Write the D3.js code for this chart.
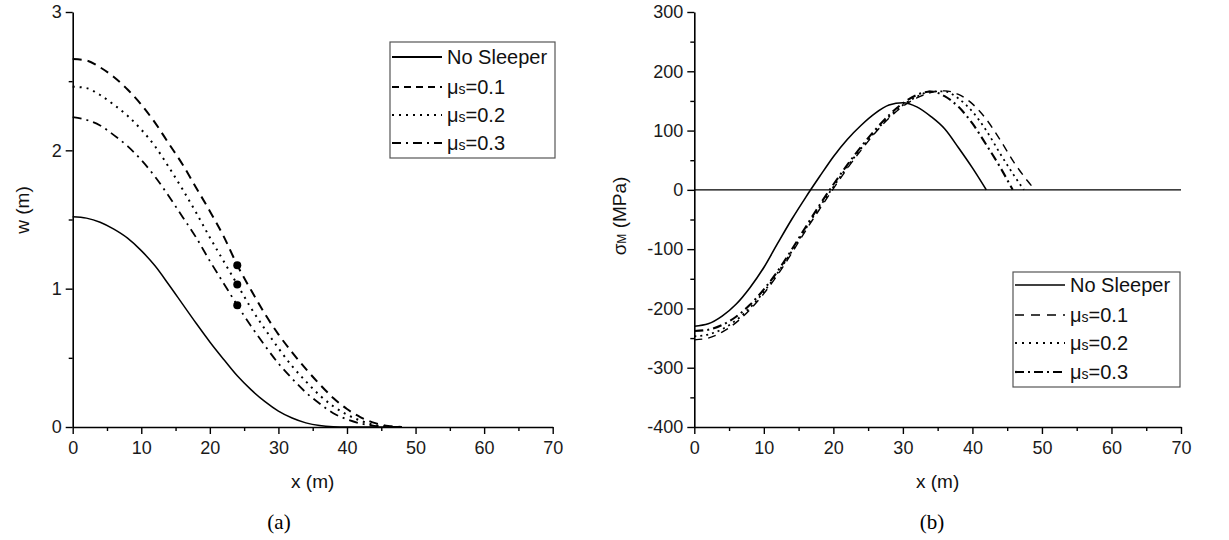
<!DOCTYPE html>
<html><head><meta charset="utf-8">
<script src="https://cdn.jsdelivr.net/npm/d3@7"></script>
<style>
body{margin:0;background:#fff;}
svg{display:block;font-family:"Liberation Sans",Arial,sans-serif;}
</style></head>
<body><svg id="c" width="1229" height="540"></svg>
<script>
// ---- Panel (a): deflection w (m) vs x (m)
const xA = [0,2,4,6,8,10,12,14,16,18,20,22,24,26,28,30,32,34,36,38,40,42,44,46,48];
const wNoSleeper = [1.52,1.51,1.48,1.43,1.365,1.275,1.165,1.03,0.89,0.75,0.615,0.49,0.37,0.27,0.185,0.115,0.065,0.03,0.01,0.002,0,0,0,0,0];
const wMu01 = [2.66,2.65,2.60,2.53,2.44,2.33,2.20,2.05,1.90,1.73,1.56,1.38,1.17,0.99,0.82,0.67,0.54,0.42,0.31,0.21,0.13,0.07,0.03,0.008,0];
const wMu02 = [2.46,2.45,2.40,2.33,2.25,2.15,2.03,1.88,1.72,1.55,1.37,1.20,1.03,0.86,0.71,0.57,0.44,0.33,0.23,0.15,0.09,0.045,0.015,0.003,0];
const wMu03 = [2.24,2.22,2.18,2.11,2.03,1.93,1.81,1.67,1.52,1.37,1.20,1.04,0.88,0.73,0.59,0.46,0.35,0.25,0.17,0.10,0.055,0.025,0.008,0.002,0];
const markX = [24,24,24];
const markW = [1.17,1.03,0.88];

// ---- Panel (b): stress sigma_M (MPa) vs x (m)
const xBNo = [0,2,4,6,8,10,12,14,16,18,20,22,24,26,28,30,32,34,36,38,40,42];
const sNoSleeper = [-230,-226,-213,-193,-165,-131,-90,-50,-13,22,56,85,109,129,143,147,140,124,103,71,37,0];
const xB01 = [0,2,4,6,8,10,12,14,16,18,20,22,24,26,28,30,32,34,36,38,40,42,44,46,48,49];
const sMu01 = [-253,-250,-240,-224,-202,-175,-143,-107,-69,-33,2,36,67,96,121,141,155,164,167,161,145,119,84,46,14,0];
const xB02 = [0,2,4,6,8,10,12,14,16,18,20,22,24,26,28,30,32,34,36,38,40,42,44,46,47.4];
const sMu02 = [-247,-244,-235,-220,-199,-172,-140,-104,-66,-29,5,39,70,98,123,143,157,166,166,154,132,100,61,24,0];
const xB03 = [0,2,4,6,8,10,12,14,16,18,20,22,24,26,28,30,32,34,36,38,40,42,44,45.8];
const sMu03 = [-238,-236,-228,-214,-194,-168,-137,-101,-63,-26,9,42,73,101,126,146,160,166,158,140,112,76,38,0];

const xMajor = [0,10,20,30,40,50,60,70];
const xMinor = [5,15,25,35,45,55,65];
const wMajor = [0,1,2,3];
const wMinor = [0.5,1.5,2.5];
const sMajor = [-400,-300,-200,-100,0,100,200,300];
const sMinor = [-350,-250,-150,-50,50,150,250];

const svg = d3.select("#c");
const zip = (xs, ys) => xs.map((x,i)=>[x,ys[i]]);
const plain = d => String(d);

function drawAxes(g, xs, ys, xMaj, xMin, yMaj, yMin){
  const ax = g.append("g").attr("transform",`translate(0,${ys.range()[0]})`);
  ax.call(d3.axisBottom(xs).tickValues(xMaj).tickSize(7).tickSizeOuter(0).tickPadding(7).tickFormat(plain));
  const axm = g.append("g").attr("transform",`translate(0,${ys.range()[0]})`);
  axm.call(d3.axisBottom(xs).tickValues(xMin).tickSize(4).tickSizeOuter(0).tickFormat(""));
  axm.select(".domain").remove();
  const ay = g.append("g").attr("transform",`translate(${xs.range()[0]},0)`);
  ay.call(d3.axisLeft(ys).tickValues(yMaj).tickSize(7).tickSizeOuter(0).tickPadding(4).tickFormat(plain));
  const aym = g.append("g").attr("transform",`translate(${xs.range()[0]},0)`);
  aym.call(d3.axisLeft(ys).tickValues(yMin).tickSize(4).tickSizeOuter(0).tickFormat(""));
  aym.select(".domain").remove();
  g.selectAll(".domain").attr("stroke","#000").attr("stroke-width",1.6);
  g.selectAll(".tick line").attr("stroke","#000").attr("stroke-width",1.4);
  g.selectAll(".tick text").attr("font-size",18).attr("fill","#1a1a1a").attr("font-family","'Liberation Sans',Arial,sans-serif");
}

function drawLegend(g, x0, y0, w, h, rows, fs){
  g.append("rect").attr("x",x0).attr("y",y0).attr("width",w).attr("height",h)
    .attr("fill","#fff").attr("stroke","#555").attr("stroke-width",1.2);
  rows.forEach(r=>{
    const yy = r.y;
    g.append("line").attr("x1",x0+2).attr("x2",x0+52).attr("y1",yy).attr("y2",yy)
      .attr("stroke","#000").attr("stroke-width",r.sw).attr("stroke-dasharray",r.dash);
    const t = g.append("text").attr("x",x0+57).attr("y",yy+7).attr("font-size",fs).attr("fill","#111");
    if(r.mu){
      t.append("tspan").text("μ");
      t.append("tspan").attr("font-size",fs*0.7).text("s");
      t.append("tspan").text("=" + r.mu);
    } else t.text(r.label);
  });
}

// ---------- Panel (a)
const xa = d3.scaleLinear().domain([0,70]).range([72.7,552.7]);
const ya = d3.scaleLinear().domain([0,3]).range([427,12]);
const ga = svg.append("g");
drawAxes(ga, xa, ya, xMajor, xMinor, wMajor, wMinor);
const lineA = d3.line().x(d=>xa(d[0])).y(d=>ya(d[1])).curve(d3.curveMonotoneX);
const stylesA = [
  {data:zip(xA,wNoSleeper), dash:null, sw:1.5},
  {data:zip(xA,wMu01), dash:"9,6", sw:2},
  {data:zip(xA,wMu02), dash:"2,5", sw:2},
  {data:zip(xA,wMu03), dash:"9,5,2,5", sw:1.8}
];
stylesA.forEach(s=>ga.append("path").attr("d",lineA(s.data)).attr("fill","none")
  .attr("stroke","#000").attr("stroke-width",s.sw).attr("stroke-dasharray",s.dash));
ga.selectAll("circle.m").data(zip(markX,markW)).join("circle").attr("class","m")
  .attr("cx",d=>xa(d[0])).attr("cy",d=>ya(d[1])).attr("r",4).attr("fill","#000");
ga.append("text").attr("x",(xa.range()[0]+xa.range()[1])/2).attr("y",488).attr("text-anchor","middle")
  .attr("font-size",19).attr("fill","#111").text("x (m)");
ga.append("text").attr("transform","translate(29,210) rotate(-90)").attr("text-anchor","middle")
  .attr("font-size",19).attr("fill","#111").text("w (m)");
ga.append("text").attr("x",279).attr("y",529).attr("text-anchor","middle")
  .attr("font-family","'Liberation Serif','Times New Roman',serif").attr("font-size",21).text("(a)");
drawLegend(ga, 390, 42, 165, 116, [
  {label:"No Sleeper", dash:null, sw:1.8, y:57},
  {mu:"0.1", dash:"7,5", sw:2.2, y:87},
  {mu:"0.2", dash:"2,5", sw:2, y:115},
  {mu:"0.3", dash:"9,5,2,5", sw:1.8, y:143}
], 20);

// ---------- Panel (b)
const xb = d3.scaleLinear().domain([0,70]).range([694.3,1181]);
const yb = d3.scaleLinear().domain([-400,300]).range([427,12]);
const gb = svg.append("g");
gb.append("line").attr("x1",xb(0)).attr("x2",xb(70)).attr("y1",yb(0)).attr("y2",yb(0))
  .attr("stroke","#000").attr("stroke-width",1.1);
drawAxes(gb, xb, yb, xMajor, xMinor, sMajor, sMinor);
const lineB = d3.line().x(d=>xb(d[0])).y(d=>yb(d[1])).curve(d3.curveMonotoneX);
const stylesB = [
  {data:zip(xBNo,sNoSleeper), dash:null, sw:1.6},
  {data:zip(xB01,sMu01), dash:"8,6", sw:1.4},
  {data:zip(xB02,sMu02), dash:"2,4", sw:1.8},
  {data:zip(xB03,sMu03), dash:"9,4,2,4", sw:2.1}
];
stylesB.forEach(s=>gb.append("path").attr("d",lineB(s.data)).attr("fill","none")
  .attr("stroke","#000").attr("stroke-width",s.sw).attr("stroke-dasharray",s.dash));
gb.append("text").attr("x",(xb.range()[0]+xb.range()[1])/2).attr("y",488).attr("text-anchor","middle")
  .attr("font-size",19).attr("fill","#111").text("x (m)");
const yl = gb.append("text").attr("transform","translate(626,216) rotate(-90)").attr("text-anchor","middle")
  .attr("font-size",19).attr("fill","#111");
yl.append("tspan").text("σ");
yl.append("tspan").attr("font-size",12).text("M");
yl.append("tspan").text(" (MPa)");
gb.append("text").attr("x",932).attr("y",529).attr("text-anchor","middle")
  .attr("font-family","'Liberation Serif','Times New Roman',serif").attr("font-size",21).text("(b)");
drawLegend(gb, 1013, 272, 167, 115, [
  {label:"No Sleeper", dash:null, sw:1.5, y:285},
  {mu:"0.1", dash:"9,7", sw:1.4, y:315},
  {mu:"0.2", dash:"2,5", sw:1.8, y:343},
  {mu:"0.3", dash:"9,4,2,4", sw:2.2, y:372}
], 20);
</script></body></html>
